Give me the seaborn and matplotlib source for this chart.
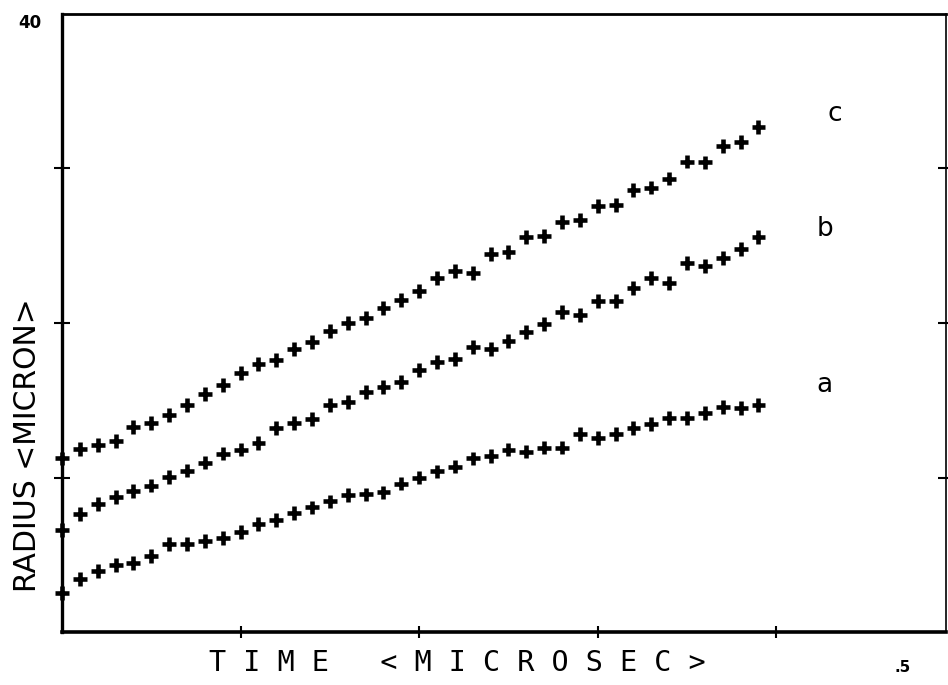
import numpy as np
import pandas as pd
import matplotlib
matplotlib.use("Agg")
import matplotlib.pyplot as plt
import seaborn as sns

# ---- data ----
time_us = [0.00, 0.01, 0.02, 0.03, 0.04, 0.05, 0.06, 0.07, 0.08, 0.09,
           0.10, 0.11, 0.12, 0.13, 0.14, 0.15, 0.16, 0.17, 0.18, 0.19,
           0.20, 0.21, 0.22, 0.23, 0.24, 0.25, 0.26, 0.27, 0.28, 0.29,
           0.30, 0.31, 0.32, 0.33, 0.34, 0.35, 0.36, 0.37, 0.38, 0.39]

radius_a = [2.52, 3.42, 3.94, 4.32, 4.45, 4.90, 5.68, 5.68, 5.87, 6.06,
            6.45, 6.97, 7.23, 7.68, 8.06, 8.45, 8.84, 8.90, 9.03, 9.61,
            10.00, 10.39, 10.71, 11.23, 11.42, 11.81, 11.68, 11.94, 11.94, 12.84,
            12.58, 12.84, 13.23, 13.48, 13.87, 13.87, 14.19, 14.58, 14.52, 14.71]

radius_b = [6.58, 7.61, 8.26, 8.71, 9.10, 9.48, 10.06, 10.45, 10.97, 11.55,
            11.81, 12.26, 13.23, 13.55, 13.81, 14.71, 14.90, 15.55, 15.87, 16.19,
            16.97, 17.48, 17.68, 18.45, 18.32, 18.84, 19.42, 19.94, 20.71, 20.52,
            21.42, 21.42, 22.26, 22.90, 22.58, 23.87, 23.68, 24.19, 24.77, 25.55]

radius_c = [11.23, 11.87, 12.13, 12.39, 13.29, 13.55, 14.06, 14.71, 15.42, 16.00,
            16.77, 17.35, 17.61, 18.32, 18.77, 19.48, 20.00, 20.32, 20.97, 21.48,
            22.06, 22.90, 23.35, 23.23, 24.45, 24.58, 25.55, 25.61, 26.52, 26.65,
            27.55, 27.61, 28.58, 28.77, 29.35, 30.45, 30.39, 31.48, 31.74, 32.71]

series_names = ["a", "b", "c"]
label_x = [0.427, 0.427, 0.433]
label_y = [16.0, 26.1, 33.5]

x_ticks = [0.1, 0.2, 0.3, 0.4]
y_ticks = [10, 20, 30]

df = pd.DataFrame({
    "time": time_us * 3,
    "radius": radius_a + radius_b + radius_c,
    "series": ["a"] * len(time_us) + ["b"] * len(time_us) + ["c"] * len(time_us),
})

sns.set_style("white")
plt.rcParams["font.family"] = ["DejaVu Sans"]
plt.rcParams["text.color"] = "black"
plt.rcParams["axes.labelcolor"] = "black"

fig = plt.figure(figsize=(9.48, 6.85), dpi=100)
ax = fig.add_axes([62 / 948, 1 - 632 / 685, (946 - 62) / 948, (632 - 14) / 685])

sns.scatterplot(data=df, x="time", y="radius", hue="series",
                palette=["black", "black", "black"], marker="+", s=100,
                linewidth=3.3, legend=False, ax=ax, clip_on=False, zorder=3)

ax.set_xlim(0, 0.495)
ax.set_ylim(0, 40)
ax.set_xticks(x_ticks)
ax.set_yticks(y_ticks)
ax.set_xticklabels([])
ax.set_yticklabels([])
ax.tick_params(axis="x", direction="inout", length=9, width=1.5, bottom=True, top=False,
               color="black")
ax.tick_params(axis="y", direction="inout", length=12, width=1.5, left=True, right=True,
               color="black")

for side in ["left", "bottom", "top", "right"]:
    ax.spines[side].set_visible(True)
    ax.spines[side].set_color("black")
ax.spines["left"].set_linewidth(2.4)
ax.spines["bottom"].set_linewidth(2.6)
ax.spines["top"].set_linewidth(2.0)
ax.spines["right"].set_linewidth(1.2)

for name, lx, ly in zip(series_names, label_x, label_y):
    ax.text(lx, ly, name, ha="center", va="center", fontsize=19, color="black")

ax.text(-0.036, 0.985, "40", transform=ax.transAxes, ha="center", va="center",
        fontsize=12, fontweight="bold", color="black")
ax.text(0.951, -0.057, ".5", transform=ax.transAxes, ha="center", va="center",
        fontsize=11, fontweight="bold", color="black")

ax.set_xlabel("T I M E   < M I C R O S E C >", fontsize=20.5,
              family="DejaVu Sans Mono", va="center", color="black")
ax.xaxis.set_label_coords(0.447, -0.05)
ax.set_ylabel("RADIUS <MICRON>", fontsize=21.5, va="center", color="black")
ax.yaxis.set_label_coords(-0.039, 0.303)

fig.savefig("out.png", dpi=100, facecolor="white")
